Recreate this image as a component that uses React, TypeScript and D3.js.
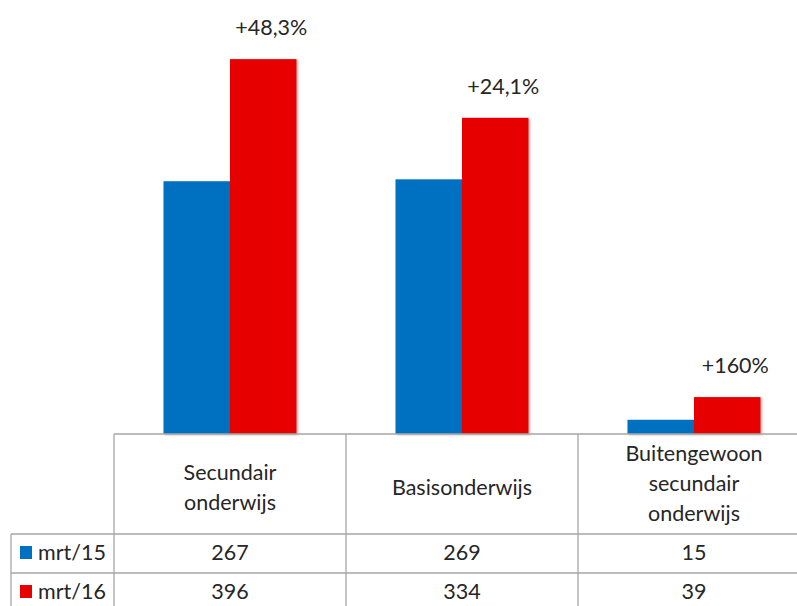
import React from "react";
import * as d3 from "d3";

const categories: string[][] = [
  ["Secundair", "onderwijs"],
  ["Basisonderwijs"],
  ["Buitengewoon", "secundair", "onderwijs"],
];
const seriesNames = ["mrt/15", "mrt/16"];
const mrt15 = [267, 269, 15];
const mrt16 = [396, 334, 39];
const changeLabels = ["+48,3%", "+24,1%", "+160%"];
const colors = ["#0070C0", "#E60000"];

export default function App() {
  const W = 797, H = 606;
  const tableLeft = 11, plotLeft = 114;
  const baseY = 434;
  const x = d3.scaleBand<number>().domain([0, 1, 2]).range([plotLeft, plotLeft + 232 * 3]).paddingInner(0).paddingOuter(0);
  const y = d3.scaleLinear().domain([0, 450]).range([baseY, 8]);
  const groupW = 133;
  const barW = groupW / 2;
  const series = [mrt15, mrt16];
  const font = "Lato, Carlito, Calibri, sans-serif";
  const fs = 21.5;
  const txt = "#262626";
  const grid = "#a6a6a6";
  const rowY = [534, 573, 612];
  const headerLines: number[][] = [[480, 510], [495], [461, 491, 521]];
  return (
    <svg width={W} height={H} style={{ position: "absolute", left: 0, top: 0, background: "#fff" }}>
      <defs>
        <filter id="sh" x="-10%" y="-10%" width="130%" height="130%">
          <feDropShadow dx="1.5" dy="1" stdDeviation="1.2" floodColor="#000" floodOpacity="0.3" />
        </filter>
      </defs>
      {categories.map((_, i) => {
        const cx = x(i)! + x.bandwidth() / 2;
        return series.map((s, k) => (
          <rect
            key={`${i}-${k}`}
            x={cx - groupW / 2 + k * barW}
            y={y(s[i])}
            width={barW}
            height={baseY - y(s[i])}
            fill={colors[k]}
            filter="url(#sh)"
          />
        ));
      })}
      {changeLabels.map((t, i) => {
        const cx = x(i)! + x.bandwidth() / 2 + barW / 2 + 8;
        return (
          <text key={t} x={cx} y={y(mrt16[i]) - 24} textAnchor="middle" fontFamily={font} fontSize={fs} fill={txt}>
            {t}
          </text>
        );
      })}
      <line x1={plotLeft} x2={W} y1={baseY} y2={baseY} stroke={grid} strokeWidth={1.3} />
      {rowY.slice(0, 2).map((yy) => (
        <line key={yy} x1={tableLeft} x2={W} y1={yy} y2={yy} stroke={grid} strokeWidth={1.3} />
      ))}
      {[0, 1, 2].map((i) => (
        <line key={i} x1={x(i)!} x2={x(i)!} y1={baseY} y2={H} stroke={grid} strokeWidth={1.3} />
      ))}
      <line x1={tableLeft} x2={tableLeft} y1={rowY[0]} y2={H} stroke={grid} strokeWidth={1.3} />
      {categories.map((lines, i) => {
        const cx = x(i)! + x.bandwidth() / 2;
        return lines.map((l, j) => (
          <text key={`${i}-${j}`} x={cx} y={headerLines[i][j]} textAnchor="middle" fontFamily={font} fontSize={fs} fill={txt}>
            {l}
          </text>
        ));
      })}
      {seriesNames.map((n, k) => (
        <g key={n}>
          <rect x={20} y={rowY[k] + 12} width={12} height={13} fill={colors[k]} />
          <text x={38} y={rowY[k] + 26} fontFamily={font} fontSize={fs} fill={txt}>
            {n}
          </text>
          {series[k].map((v, i) => (
            <text key={i} x={x(i)! + x.bandwidth() / 2} y={rowY[k] + 26} textAnchor="middle" fontFamily={font} fontSize={fs} fill={txt}>
              {v}
            </text>
          ))}
        </g>
      ))}
    </svg>
  );
}
